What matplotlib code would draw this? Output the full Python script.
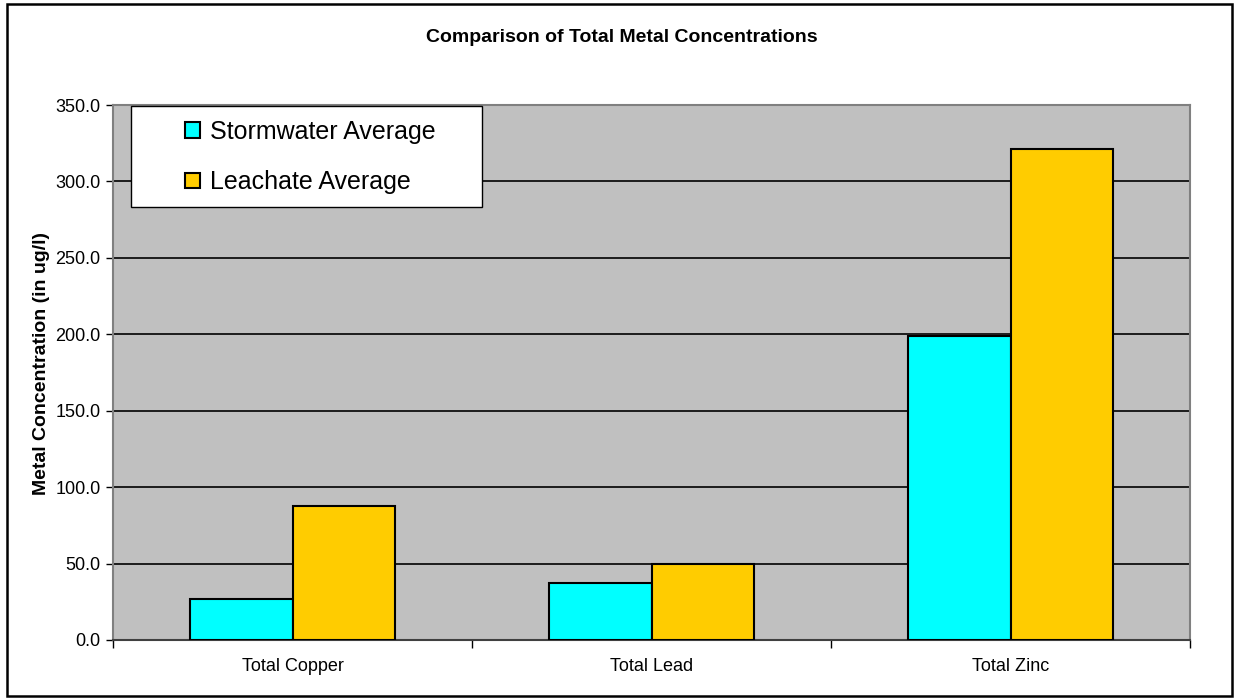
import matplotlib.pyplot as plt
import numpy as np
from matplotlib.patches import Rectangle

plt.rcParams['font.family'] = ['Liberation Sans', 'DejaVu Sans']

metals = ["Total Copper", "Total Lead", "Total Zinc"]
stormwater_avg = [26.8, 37.1, 198.8]
leachate_avg = [87.7, 49.6, 321.2]
y_ticks = [0, 50, 100, 150, 200, 250, 300, 350]

W, H = 1236, 700
fig = plt.figure(figsize=(W / 100, H / 100), dpi=100)
ax = fig.add_axes([113 / W, 60 / H, 1077 / W, 535 / H])
ax.set_facecolor("#C0C0C0")

x = np.arange(len(metals))
w = 1 / 3.5
ax.bar(x - w / 2, stormwater_avg, w, color="#00FFFF", edgecolor="black",
       linewidth=1.5, label="Stormwater Average", zorder=3)
ax.bar(x + w / 2, leachate_avg, w, color="#FFCC00", edgecolor="black",
       linewidth=1.5, label="Leachate Average", zorder=3)

ax.set_xlim(-0.5, len(metals) - 0.5)
ax.set_ylim(0, 350)
ax.set_yticks(y_ticks)
ax.set_yticklabels([f"{v:.1f}" for v in y_ticks], fontsize=13)
ax.yaxis.grid(True, color="black", linewidth=1.2, zorder=1)
ax.set_axisbelow(True)

# category labels centered, tick marks between categories
ax.set_xticks(x)
ax.set_xticklabels(metals, fontsize=13)
ax.set_xticks(np.arange(-0.5, len(metals)), minor=True)
ax.tick_params(axis="x", which="major", length=0, pad=13)
ax.tick_params(axis="x", which="minor", length=6, width=1, color="black")
ax.tick_params(axis="y", length=5, width=1, color="black", pad=4)

for side in ["top", "right", "left"]:
    ax.spines[side].set_color("#808080")
    ax.spines[side].set_linewidth(1.5)
ax.spines["bottom"].set_color("#404040")
ax.spines["bottom"].set_linewidth(1.5)

fig.text(42 / W, 1 - 495 / H, "Metal Concentration (in ug/l)", rotation=90,
         fontsize=14, fontweight="bold", ha="center", va="bottom")
fig.text(622 / W, 1 - 37 / H, "Comparison of Total Metal Concentrations",
         fontsize=14, fontweight="bold", ha="center", va="center")

# legend box with the entries set inside it
ax.add_patch(Rectangle((131 / W, 1 - 207 / H), 351 / W, 101 / H,
                       transform=fig.transFigure, facecolor="white",
                       edgecolor="black", linewidth=1, zorder=4,
                       clip_on=False))
leg = ax.legend(loc="upper left", bbox_to_anchor=(185 / W, 1 - 120 / H),
                bbox_transform=fig.transFigure, fontsize=18, frameon=False,
                handlelength=0.6, handleheight=0.6, handletextpad=0.4,
                borderpad=0, labelspacing=1.05, borderaxespad=0)
leg.set_zorder(5)
for patch in leg.get_patches():
    patch.set_linewidth(1.5)

# outer chart border
fig.patches.append(Rectangle((7 / W, 4 / H), 1225 / W, 692 / H,
                             transform=fig.transFigure, fill=False,
                             edgecolor="black", linewidth=1.8))

fig.savefig("out.png", dpi=100)
